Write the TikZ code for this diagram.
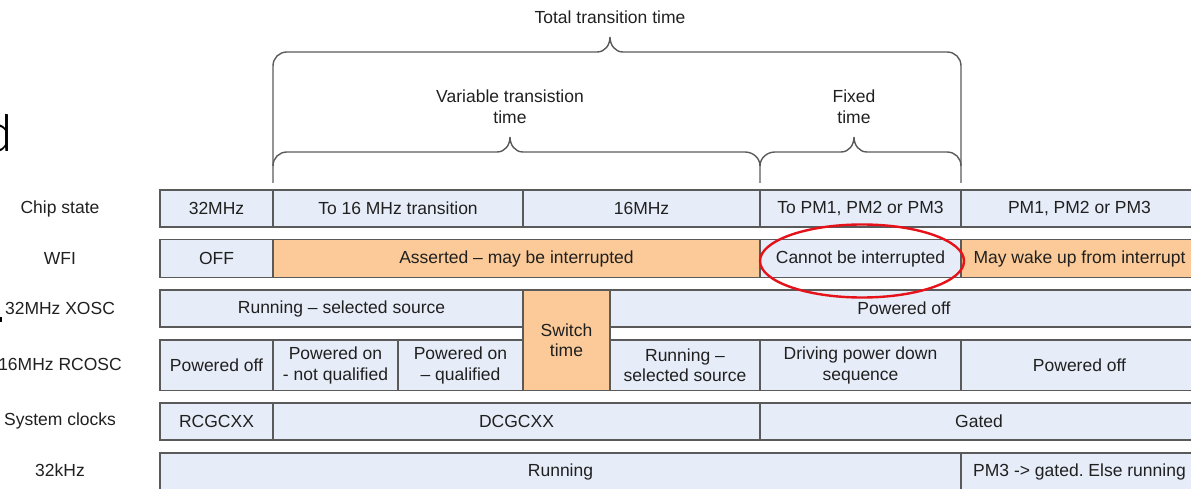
\documentclass[tikz,border=0pt]{standalone}
\usepackage{fontspec}
\setmainfont{Liberation Sans}
\newfontfamily\thinsans{Fira Sans}[UprightFont={* Light}]
\frenchspacing
\definecolor{cellblue}{HTML}{E7EDF8}
\definecolor{cellorange}{HTML}{FBCA98}
\definecolor{edgegray}{HTML}{5A5A5A}
\definecolor{inkgray}{HTML}{202020}
\definecolor{markred}{HTML}{E5121A}
\tikzset{
  cellbox/.style={draw=edgegray, line width=1.4pt, fill=cellblue, inner sep=0pt,
    outer sep=0pt, align=center, text=inkgray, font=\fontsize{17.5}{20.5}\selectfont},
  hotbox/.style={cellbox, fill=cellorange},
  rowlabel/.style={text=inkgray, font=\fontsize{17.5}{20.5}\selectfont, inner sep=0pt},
  bracelabel/.style={text=inkgray, align=center, font=\fontsize{17.5}{20.5}\selectfont, inner sep=0pt},
  bracepath/.style={draw=edgegray, line width=1.4pt},
}
% a cell: name, style, x1, x2, y1, y2, text
\newcommand\tcell[7]{%
  \node[#2, minimum width={(#4-#3)*1pt}, minimum height={(#6-#5)*1pt}]
    (#1) at ({(#3+#4)/2},{(#5+#6)/2}) {#7};}
\begin{document}
\begin{tikzpicture}[x=1pt,y=-1pt]
\useasboundingbox (0,0) rectangle (1191,489);
\clip (0,0) rectangle (1191,489);

% stray glyphs at the left edge
\node[anchor=base east, inner sep=0pt, text=black, font=\thinsans\fontsize{50}{50}\selectfont] (edgeglyph) at (14,151.5) {d};
\fill[black] (0,317) rectangle (2,322);

% braces
\path[bracepath] (273,183) -- (273,66) .. controls (273,58) and (279,52) .. (287,52)
  -- (597,52) .. controls (605,52) and (610,45) .. (610,37)
  .. controls (610,45) and (615,52) .. (623,52)
  -- (947,52) .. controls (955,52) and (961,58) .. (961,66) -- (961,183);
\path[bracepath] (273,166) .. controls (273,158) and (279,152) .. (287,152)
  -- (497,152) .. controls (505,152) and (510,145) .. (510,137)
  .. controls (510,145) and (515,152) .. (523,152)
  -- (745,152) .. controls (753,152) and (760,158) .. (760,166) -- (760,183);
\path[bracepath] (760,166) .. controls (760,158) and (767,152) .. (775,152)
  -- (841,152) .. controls (849,152) and (854,145) .. (854,137)
  .. controls (854,145) and (859,152) .. (867,152)
  -- (947,152) .. controls (955,152) and (961,158) .. (961,166);

\node[bracelabel] (totaltime) at (610,17) {Total transition time};
\node[bracelabel] (vartime) at (510,106.5) {Variable transistion\\time};
\node[bracelabel] (fixtime) at (854,106.5) {Fixed\\time};

% row labels
\node[rowlabel] (lchip) at (60,208.5) {Chip state};
\node[rowlabel] (lwfi) at (60,258) {WFI};
\node[rowlabel] (lxosc) at (60,308) {32MHz XOSC};
\node[rowlabel] (lrcosc) at (60,364.5) {16MHz RCOSC};
\node[rowlabel] (lclk) at (60,421) {System clocks};
\node[rowlabel] (lkhz) at (60,470.5) {32kHz};

% chip state
\tcell{c1}{cellbox}{160}{273}{190}{227}{32MHz}
\tcell{c2}{cellbox}{273}{523}{190}{227}{To 16 MHz transition}
\tcell{c3}{cellbox}{523}{760}{190}{227}{16MHz}
\tcell{c4}{cellbox}{760}{961}{190}{227}{To PM1, PM2 or PM3}
\tcell{c5}{cellbox}{961}{1198}{190}{227}{PM1, PM2 or PM3}

% WFI
\tcell{w1}{cellbox}{160}{273}{239.5}{277.5}{OFF}
\tcell{w2}{hotbox}{273}{760}{239.5}{277.5}{Asserted – may be interrupted}
\tcell{w3}{cellbox}{760}{961}{239.5}{277.5}{Cannot be interrupted}
\tcell{w4}{hotbox}{961}{1198}{239.5}{277.5}{May wake up from interrupt}

% 32MHz XOSC
\tcell{x1}{cellbox}{160}{523}{290}{327}{Running – selected source}
\tcell{x3}{cellbox}{610}{1198}{290}{327}{Powered off}

% 16MHz RCOSC
\tcell{r1}{cellbox}{160}{273}{340}{390.5}{Powered off}
\tcell{r2}{cellbox}{273}{398}{340}{390.5}{Powered on\\- not qualified}
\tcell{r3}{cellbox}{398}{523}{340}{390.5}{Powered on\\– qualified}
\tcell{r5}{cellbox}{610}{760}{340}{390.5}{Running –\\selected source}
\tcell{r6}{cellbox}{760}{961}{340}{390.5}{Driving power down\\sequence}
\tcell{r7}{cellbox}{961}{1198}{340}{390.5}{Powered off}

% switch time spans both oscillator rows
\tcell{sw}{hotbox}{523}{610}{290}{390.5}{Switch\\time}

% system clocks
\tcell{s1}{cellbox}{160}{273}{403}{440}{RCGCXX}
\tcell{s2}{cellbox}{273}{760}{403}{440}{DCGCXX}
\tcell{s3}{cellbox}{760}{1198}{403}{440}{Gated}

% 32kHz
\tcell{k1}{cellbox}{160}{961}{453}{490}{Running}
\tcell{k2}{cellbox}{961}{1198}{453}{490}{PM3 -> gated. Else running}

% highlight
\draw[markred, line width=2.4pt] (862,261) ellipse [x radius=102, y radius=36.5];
\end{tikzpicture}
\end{document}
